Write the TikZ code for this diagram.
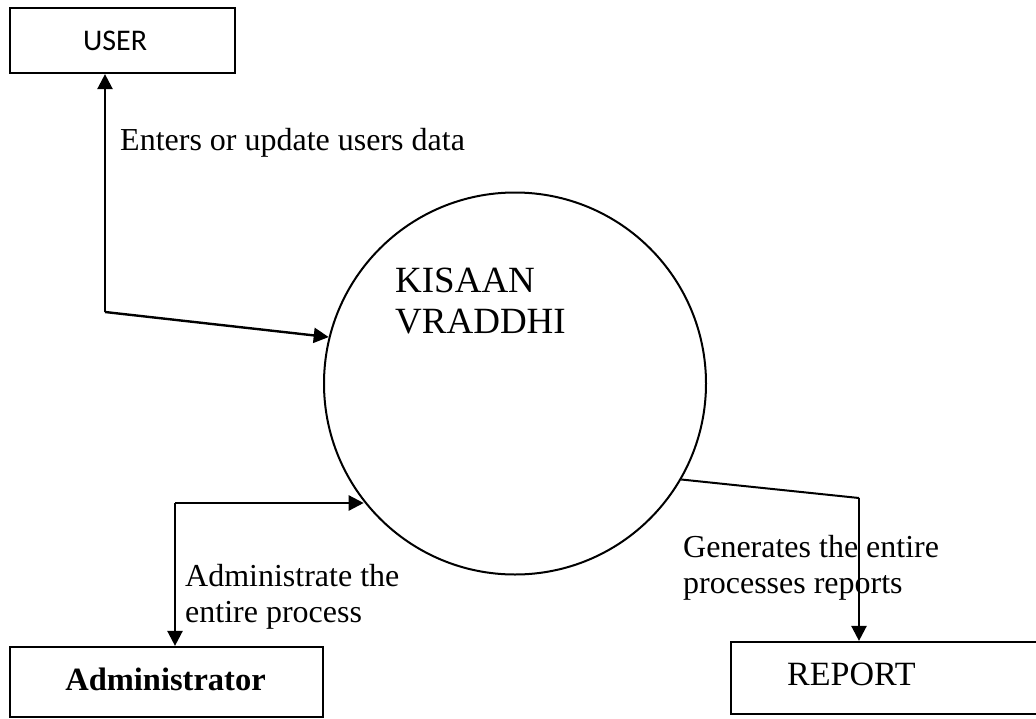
\documentclass[tikz,border=0pt]{standalone}
\usepackage{fontspec}
\setmainfont{Liberation Serif}
\newfontfamily\calibri{Carlito}
\usetikzlibrary{arrows.meta}

\begin{document}
\begin{tikzpicture}[x=1pt,y=-1pt,
  box/.style={draw, line width=2.2pt, inner sep=0pt},
  flow/.style={line width=2.4pt, -{Triangle[length=15pt,width=15pt]}},
  plain/.style={line width=2pt},
  lbl/.style={inner sep=0pt, anchor=base west, align=left,
              font=\fontsize{32}{35.5}\selectfont}]
\useasboundingbox (0,0) rectangle (1036,718);
\clip (0,0) rectangle (1036,718);

% external entities and the process
\node[box, minimum width=225pt, minimum height=65pt] (user) at (122.5,40.5) {};
\node[box, minimum width=313pt, minimum height=70pt] (admin) at (166.5,682) {};
\node[box, minimum width=330pt, minimum height=72pt] (report) at (896,678) {};
\node[draw, circle, line width=2pt, minimum size=382pt, inner sep=0pt] (kv) at (515,383.5) {};

% texts (multi-line nodes are placed by the baseline of their last line)
\node[inner sep=0pt, anchor=base west, font=\calibri\fontsize{30}{34}\selectfont] (usertext) at (83,50) {USER};
\node[inner sep=0pt, anchor=base, font=\fontsize{32.5}{36}\selectfont\bfseries] (admintext) at (165.5,690) {Administrator};
\node[inner sep=0pt, anchor=base west, font=\fontsize{34}{38}\selectfont] (reporttext) at (787,685) {REPORT};
\node[inner sep=0pt, anchor=base west, align=left, font=\fontsize{37}{41}\selectfont] (kvtext) at (395,333) {KISAAN\\VRADDHI};

% bend points of the flows
\coordinate (uc) at (105,312);
\coordinate (ac) at (175,503);
\coordinate (rc) at (859,498);

% data flows
\draw[flow] (uc) -- (uc |- user.south);
\draw[flow] (uc) -- (kv.166);
\draw[flow] (ac) -- (ac |- admin.north);
\draw[flow] (ac) -- (ac -| kv.218.5);
\draw[plain] (kv.330.6) -- (rc);
\draw[flow] (rc) -- (rc |- report.north);

% flow labels
\node[lbl] (l1) at (120,150.5) {Enters or update users data};
\node[lbl] (l2) at (185,622) {Administrate the\\entire process};
\node[lbl] (l3) at (683,593) {Generates the entire\\processes reports};
\end{tikzpicture}
\end{document}
